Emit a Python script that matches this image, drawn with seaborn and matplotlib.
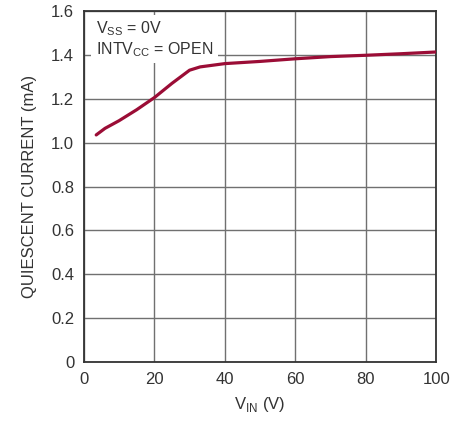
import matplotlib
matplotlib.use("Agg")
import matplotlib.pyplot as plt
import seaborn as sns
import pandas as pd

vin = [3.5, 6, 10, 15, 20, 25, 30, 33, 40, 50, 60, 70, 80, 90, 100]
iq = [1.035, 1.065, 1.10, 1.15, 1.205, 1.27, 1.33, 1.345, 1.36, 1.37, 1.382, 1.392, 1.398, 1.405, 1.413]
xticks = [0, 20, 40, 60, 80, 100]
yticks = [0, 0.2, 0.4, 0.6, 0.8, 1.0, 1.2, 1.4, 1.6]
yticklabels = ["0", "0.2", "0.4", "0.6", "0.8", "1.0", "1.2", "1.4", "1.6"]

sns.set_style("white")
plt.rcParams['font.family'] = ['Liberation Sans', 'DejaVu Sans']
plt.rcParams['mathtext.fontset'] = 'custom'
plt.rcParams['mathtext.rm'] = 'Liberation Sans'

fig = plt.figure(figsize=(4.66, 4.21), dpi=100)
ax = fig.add_axes([0.180, 0.140, 0.756, 0.834])

df = pd.DataFrame({"vin": vin, "iq": iq})
sns.lineplot(data=df, x="vin", y="iq", ax=ax, color="#9b0d36", linewidth=2.3, zorder=6)

ax.set_xlim(0, 100)
ax.set_ylim(0, 1.6)
ax.set_xticks(xticks)
ax.set_xticklabels([str(t) for t in xticks])
ax.set_yticks(yticks)
ax.set_yticklabels(yticklabels)
ax.grid(True, color="#707070", linewidth=1.0)
ax.set_axisbelow(True)
for s in ax.spines.values():
    s.set_color("#333333")
    s.set_linewidth(1.3)
ax.tick_params(axis="both", length=0, pad=7, labelsize=12, colors="#333333")

ax.set_xlabel(r"V$_{\mathregular{IN}}$ (V)", fontsize=12, color="#333333", labelpad=6)
ax.set_ylabel("QUIESCENT CURRENT (mA)", fontsize=12, color="#333333", labelpad=10)

ax.text(0.035, 0.975, "V$_{\\mathregular{SS}}$ = 0V\nINTV$_{\\mathregular{CC}}$ = OPEN",
        transform=ax.transAxes, fontsize=11.5, color="#333333", va="top", ha="left",
        linespacing=1.1, zorder=4,
        bbox=dict(boxstyle="square,pad=0.3", facecolor="white", edgecolor="none"))

fig.savefig("out.png", dpi=100)
